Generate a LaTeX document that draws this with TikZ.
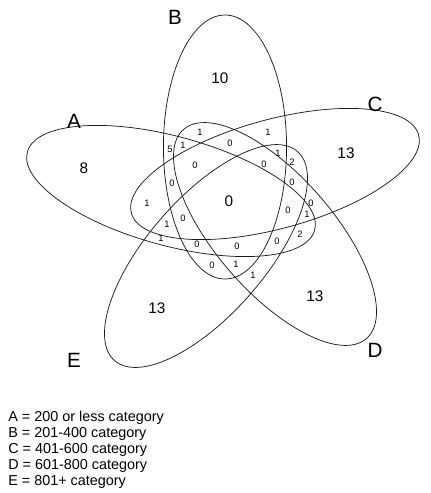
\documentclass[tikz,border=0pt]{standalone}
\usepackage{fontspec}
\setmainfont{Liberation Sans}
\usepackage{tikz}

\begin{document}
\begin{tikzpicture}[
  x=0.75pt,y=-0.75pt,
  set/.style={draw=black!90,line width=0.55pt},
  setname/.style={font=\fontsize{15.5}{16}\selectfont},
  bigcount/.style={font=\fontsize{11.5}{12}\selectfont},
  count/.style={font=\fontsize{7}{8}\selectfont,inner sep=0pt},
  keyline/.style={anchor=base west,inner sep=0pt,font=\fontsize{10.8}{12}\selectfont}
]
\useasboundingbox (0,0) rectangle (430,493);

% the five sets
\draw[set,shift={(171,191)},xscale=1.14,rotate=72]   (0,0) ellipse [x radius=54,y radius=132];
\draw[set,shift={(225,147)},xscale=1.14]             (0,0) ellipse [x radius=54,y radius=132];
\draw[set,shift={(275,174)},xscale=1.14,rotate=-72]  (0,0) ellipse [x radius=54,y radius=132];
\draw[set,shift={(275,234)},xscale=1.14,rotate=-144] (0,0) ellipse [x radius=54,y radius=132];
\draw[set,shift={(206,256)},xscale=1.14,rotate=144]  (0,0) ellipse [x radius=54,y radius=132];

\node[setname] (la) at (74,121)  {A};
\node[setname] (lb) at (175,17)  {B};
\node[setname] (lc) at (375,104) {C};
\node[setname] (ld) at (375,350) {D};
\node[setname] (le) at (74,360)  {E};

% one set only, and all five
\node[bigcount] (a)  at (84,168)  {8};
\node[bigcount] (b)  at (220,78)  {10};
\node[bigcount] (c)  at (346,153) {13};
\node[bigcount] (d)  at (315,296) {13};
\node[bigcount] (e)  at (157,308) {13};
\node[bigcount] (abcde) at (229,201) {0};

% the small regions
\node[count] (r1)  at (200,132) {1};
\node[count] (r2)  at (170,149) {5};
\node[count] (r3)  at (183,145) {1};
\node[count] (r4)  at (195,165) {0};
\node[count] (r5)  at (172,183) {0};
\node[count] (r6)  at (147,203) {1};
\node[count] (r7)  at (183,218) {0};
\node[count] (r8)  at (167,224) {1};
\node[count] (r9)  at (161,238) {1};
\node[count] (r10) at (197,244) {0};
\node[count] (r11) at (212,265) {0};
\node[count] (r12) at (230,143) {0};
\node[count] (r13) at (268,132) {1};
\node[count] (r14) at (278,153) {1};
\node[count] (r15) at (292,162) {2};
\node[count] (r16) at (264,164) {0};
\node[count] (r17) at (292,182) {0};
\node[count] (r18) at (311,203) {0};
\node[count] (r19) at (307,214) {1};
\node[count] (r20) at (288,210) {0};
\node[count] (r21) at (300,234) {2};
\node[count] (r22) at (277,241) {0};
\node[count] (r23) at (237,246) {0};
\node[count] (r24) at (236,264) {1};
\node[count] (r25) at (253,275) {1};

% key
\node[keyline] (k1) at (8,421.5) {A = 200 or less category};
\node[keyline] (k2) at (8,437.6) {B = 201-400 category};
\node[keyline] (k3) at (8,453.7) {C = 401-600 category};
\node[keyline] (k4) at (8,469.8) {D = 601-800 category};
\node[keyline] (k5) at (8,485.9) {E = 801+ category};
\end{tikzpicture}
\end{document}
